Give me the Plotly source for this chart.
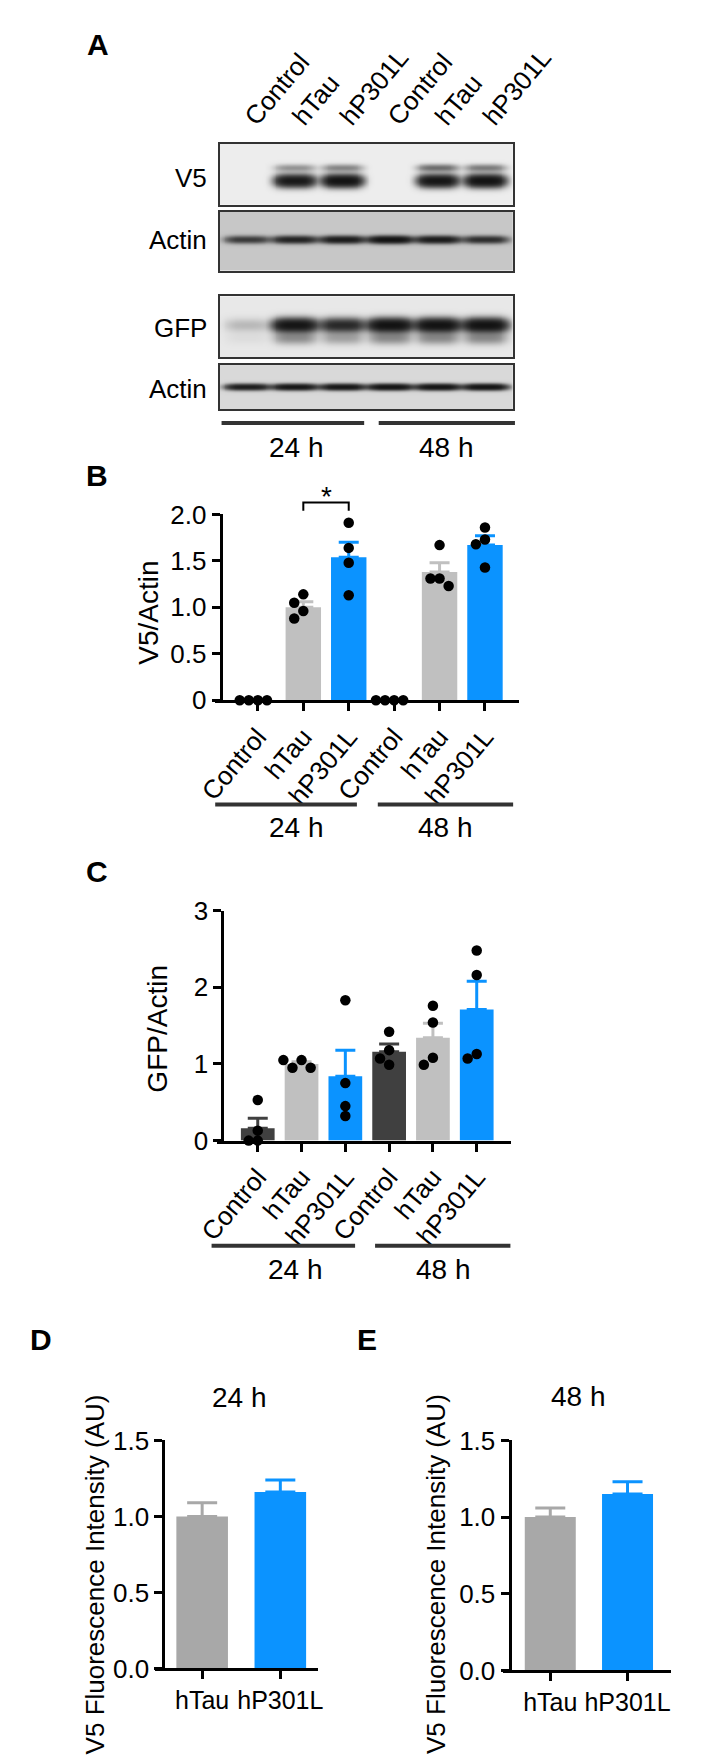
import numpy as np
import plotly.graph_objects as go

W, H = 709, 1759
FONT = "Liberation Sans, Arial, Helvetica, sans-serif"

# ---------------- data ----------------
lanes = ["Control", "hTau", "hP301L", "Control", "hTau", "hP301L"]
groups = ["24 h", "48 h"]
blot_rows = ["V5", "Actin", "GFP", "Actin"]

# relative band intensities (0 = none, 1 = saturated)
v5_main = [0.0, 0.9, 1.0, 0.0, 0.95, 1.0]
v5_upper = [0.0, 0.18, 0.22, 0.0, 0.3, 0.25]
actin1_band = [0.5, 0.7, 0.8, 0.95, 0.8, 0.6]
gfp_band = [0.09, 0.95, 0.7, 1.0, 1.0, 1.0]
actin2_band = [0.8, 0.9, 0.9, 0.95, 0.95, 0.95]

# panel B : V5/Actin
b_mean = [0.0, 1.0, 1.54, 0.0, 1.38, 1.67]
b_sem = [0.0, 0.06, 0.16, 0.0, 0.10, 0.10]
b_points = [[0.0, 0.0, 0.0, 0.0],
            [1.14, 1.05, 0.96, 0.88],
            [1.91, 1.64, 1.48, 1.13],
            [0.0, 0.0, 0.0, 0.0],
            [1.67, 1.31, 1.31, 1.23],
            [1.86, 1.73, 1.68, 1.43]]
b_ticks = [0, 0.5, 1.0, 1.5, 2.0]
b_ticktext = ["0", "0.5", "1.0", "1.5", "2.0"]

# panel C : GFP/Actin
c_mean = [0.16, 1.0, 0.84, 1.16, 1.34, 1.71]
c_sem = [0.13, 0.03, 0.34, 0.10, 0.19, 0.37]
c_points = [[0.53, 0.0, 0.13, 0.0],
            [1.05, 0.95, 0.95, 1.05],
            [1.83, 0.75, 0.45, 0.32],
            [1.42, 1.18, 1.07, 0.99],
            [1.76, 1.54, 1.08, 0.99],
            [2.48, 2.16, 1.13, 1.07]]
c_ticks = [0, 1, 2, 3]
c_ticktext = ["0", "1", "2", "3"]

# panels D / E : V5 fluorescence intensity
de_labels = ["hTau", "hP301L"]
d_mean = [1.0, 1.16]
d_sem = [0.09, 0.08]
e_mean = [1.0, 1.15]
e_sem = [0.06, 0.08]
de_ticks = [0, 0.5, 1.0, 1.5]
de_ticktext = ["0.0", "0.5", "1.0", "1.5"]

# ---------------- styles ----------------
DARK = "#404040"
LIGHT = "#c0c0c0"
MID = "#a8a8a8"
BLUE = "#0b93ff"
bc_colors = [DARK, LIGHT, BLUE, DARK, LIGHT, BLUE]
de_colors = [MID, BLUE]
ANGLE = -50


def fx(px):
    return px / W


def fy(py):
    return 1 - py / H


def to_paper(dom, rng, v):
    return dom[0] + (v - rng[0]) / (rng[1] - rng[0]) * (dom[1] - dom[0])


def note(text, x, y, size, angle=0, xanchor="center", yanchor="middle", bold=False):
    annotations.append(dict(text=f"<b>{text}</b>" if bold else text, x=x, y=y,
                            xref="paper", yref="paper", xanchor=xanchor,
                            yanchor=yanchor, showarrow=False, textangle=angle,
                            font=dict(size=size, color="black", family=FONT)))


fig = go.Figure()
layout = {}
annotations = []
shapes = []

# ---------------- panel A : blots ----------------
BLOT_X = [-0.57, 5.59]
BLOT_DOM = [fx(210), fx(533)]
xs = np.linspace(BLOT_X[0], BLOT_X[1], 323)

blots = [
    # (top px, bottom px, background, [(intensities, yc, sy, wx)])
    (123, 185, 0.07, [(v5_main, 37, 6.0, 0.42), (v5_upper, 24, 3.5, 0.42)]),
    (192, 252, 0.22, [(actin1_band, 28, 3.5, 0.46)]),
    (278, 340, 0.09, [(gfp_band, 29, 6.5, 0.46),
                      ([0.2 * g for g in gfp_band], 42, 6.0, 0.44)]),
    (348, 393, 0.15, [(actin2_band, 22, 3.0, 0.46)]),
]
row_label_y = [158, 221, 310, 372]

for k, (top, bot, bg, specs) in enumerate(blots):
    hpx = bot - top
    ys = np.arange(hpx) + 0.5
    X, Y = np.meshgrid(xs, ys)
    acc = np.zeros_like(X)
    for inten, yc, sy, wx in specs:
        for i, a in enumerate(inten):
            if a <= 0:
                continue
            acc += a * np.exp(-(np.abs(X - i) / wx) ** 4 - ((Y - yc) / sy) ** 2)
    z = bg + (1 - bg) * (1 - np.exp(-2.5 * acc))
    ax = "" if k == 0 else str(k + 1)
    fig.add_trace(go.Heatmap(x=xs, y=ys, z=z, zmin=0, zmax=1,
                             colorscale=[[0, "#ffffff"], [1, "#000000"]],
                             showscale=False, hoverinfo="skip", zsmooth="best",
                             xaxis="x" + ax, yaxis="y" + ax))
    xa = dict(domain=BLOT_DOM, range=BLOT_X, anchor="y" + ax, showline=True,
              mirror=True, linecolor="#333333", linewidth=1.5, showgrid=False,
              zeroline=False, showticklabels=False, ticks="")
    if k == 0:
        xa.update(side="top", showticklabels=True, tickvals=list(range(6)),
                  ticktext=lanes, tickangle=ANGLE,
                  tickfont=dict(size=26, color="black", family=FONT))
    ya = dict(domain=[fy(bot), fy(top)], range=[hpx, 0], anchor="x" + ax,
              showline=True, mirror=True, linecolor="#333333", linewidth=1.5,
              showgrid=False, zeroline=False, showticklabels=False, ticks="")
    layout["xaxis" + ax] = xa
    layout["yaxis" + ax] = ya
    note(blot_rows[k], fx(198), fy(row_label_y[k]), 26, xanchor="right")


def group_decor(y_line, y_text, spans, centers):
    for (a, b) in spans:
        shapes.append(dict(type="line", xref="paper", yref="paper",
                           x0=fx(a), x1=fx(b), y0=fy(y_line), y1=fy(y_line),
                           line=dict(color="#333333", width=4)))
    for g, c in zip(groups, centers):
        note(g, fx(c), fy(y_text), 28)


group_decor(407, 432, [(212, 369), (385, 535)], [295, 460])


# ---------------- bar panels ----------------
def swarm(vals, ppu_y, ppu_x, d=10.5):
    placed = []
    offs = []
    cands = [0]
    for i in range(1, 12):
        cands += [-i * 5.0, i * 5.0]
    for v in vals:
        yv = v * ppu_y
        for c in cands:
            if all((c - px) ** 2 + (yv - py) ** 2 >= (d * 0.95) ** 2 for px, py in placed):
                placed.append((c, yv))
                offs.append(c / ppu_x)
                break
    return offs


def bar_panel(n, xdom, xrng, ydom, yrng, ypos, means, sems, colors, labels,
              ticks, ticktext, barw, capw, tickangle, xfont, points=None):
    ax = str(n)
    for i, (m, s, col) in enumerate(zip(means, sems, colors)):
        fig.add_trace(go.Bar(
            x=[i], y=[m], width=barw, marker=dict(color=col, line=dict(width=0)),
            error_y=dict(type="data", array=[s], arrayminus=[0], symmetric=False,
                         color=col, thickness=3, width=capw, visible=s > 0),
            xaxis="x" + ax, yaxis="y" + ax, showlegend=False, hoverinfo="skip"))
    if points is not None:
        ppu_y = (ydom[1] - ydom[0]) * H / (yrng[1] - yrng[0])
        ppu_x = (xdom[1] - xdom[0]) * W / (xrng[1] - xrng[0])
        for i, pts in enumerate(points):
            offs = swarm(pts, ppu_y, ppu_x)
            fig.add_trace(go.Scatter(
                x=[i + o for o in offs], y=pts, mode="markers",
                marker=dict(color="black", size=10.5, line=dict(width=0)),
                cliponaxis=False, xaxis="x" + ax, yaxis="y" + ax,
                showlegend=False, hoverinfo="skip"))
    layout["xaxis" + ax] = dict(
        domain=xdom, range=xrng, anchor="y" + ax, showline=True, linewidth=3,
        linecolor="black", ticks="outside", ticklen=8, tickwidth=3,
        tickcolor="black", tickvals=list(range(len(labels))), ticktext=labels,
        tickangle=tickangle, tickfont=dict(size=xfont, color="black", family=FONT),
        showgrid=False, zeroline=False)
    layout["yaxis" + ax] = dict(
        domain=ydom, range=yrng, anchor="free", position=ypos, showline=True,
        linewidth=3, linecolor="black", ticks="outside", ticklen=8, tickwidth=3,
        tickcolor="black", tickvals=ticks, ticktext=ticktext,
        tickfont=dict(size=26, color="black", family=FONT),
        showgrid=False, zeroline=False)


# Panel B
B_XDOM = [fx(205), fx(540)]
B_XRNG = [-0.94, 5.76]
B_YDOM = [fy(689), fy(500)]
B_YRNG = [0, 2.0]
bar_panel(5, B_XDOM, B_XRNG, B_YDOM, B_YRNG, fx(211), b_mean, b_sem, bc_colors,
          lanes, b_ticks, b_ticktext, 0.78, 10, ANGLE, 26, b_points)
group_decor(795, 818, [(205, 361), (384, 533)], [295, 459])

# significance bracket hTau vs hP301L at 24 h
bx1 = to_paper(B_XDOM, B_XRNG, 1)
bx2 = to_paper(B_XDOM, B_XRNG, 2)
by_top = to_paper(B_YDOM, B_YRNG, 2.13)
by_leg = to_paper(B_YDOM, B_YRNG, 2.04)
shapes.append(dict(type="path", xref="paper", yref="paper",
                   path=f"M {bx1},{by_leg} L {bx1},{by_top} L {bx2},{by_top} L {bx2},{by_leg}",
                   line=dict(color="black", width=2)))
note("*", (bx1 + bx2) / 2, to_paper(B_YDOM, B_YRNG, 2.19), 28)

# Panel C
C_XDOM = [fx(207), fx(531)]
C_XRNG = [-0.93, 5.79]
C_YDOM = [fy(1137), fy(903)]
C_YRNG = [0, 3]
bar_panel(6, C_XDOM, C_XRNG, C_YDOM, C_YRNG, fx(213), c_mean, c_sem, bc_colors,
          lanes, c_ticks, c_ticktext, 0.77, 10, ANGLE, 26, c_points)
group_decor(1244, 1268, [(201, 359), (381, 530)], [293, 456])

# Panel D
bar_panel(7, [fx(139), fx(318)], [-0.6, 1.48], [fy(1674), fy(1442)], [0, 1.5],
          fx(148), d_mean, d_sem, de_colors, de_labels, de_ticks, de_ticktext,
          0.66, 15, 0, 25)
# Panel E
bar_panel(8, [fx(522), fx(707)], [-0.61, 1.565], [fy(1676), fy(1442)], [0, 1.5],
          fx(529), e_mean, e_sem, de_colors, de_labels, de_ticks, de_ticktext,
          0.66, 15, 0, 25)

# titles / axis titles
note("V5/Actin", fx(132), fy(600), 28, angle=-90)
note("GFP/Actin", fx(141), fy(1023), 28, angle=-90)
note("V5 Fluorescence Intensity (AU)", fx(73), fy(1578), 26, angle=-90)
note("V5 Fluorescence Intensity (AU)", fx(448), fy(1578), 26, angle=-90)
note("24 h", fx(232), fy(1398), 28)
note("48 h", fx(605), fy(1397), 28)

# panel letters
for letter, x, y in [("A", 76, 22), ("B", 75, 460), ("C", 75, 863),
                     ("D", 13, 1339), ("E", 372, 1339)]:
    note(letter, fx(x), fy(y), 30, bold=True)

layout.update(dict(width=W, height=H, margin=dict(l=0, r=0, t=0, b=0),
                   paper_bgcolor="white", plot_bgcolor="rgba(0,0,0,0)",
                   showlegend=False, barmode="overlay", annotations=annotations,
                   shapes=shapes, font=dict(family=FONT, color="black")))
fig.update_layout(**layout)
fig.write_html("out.html")
